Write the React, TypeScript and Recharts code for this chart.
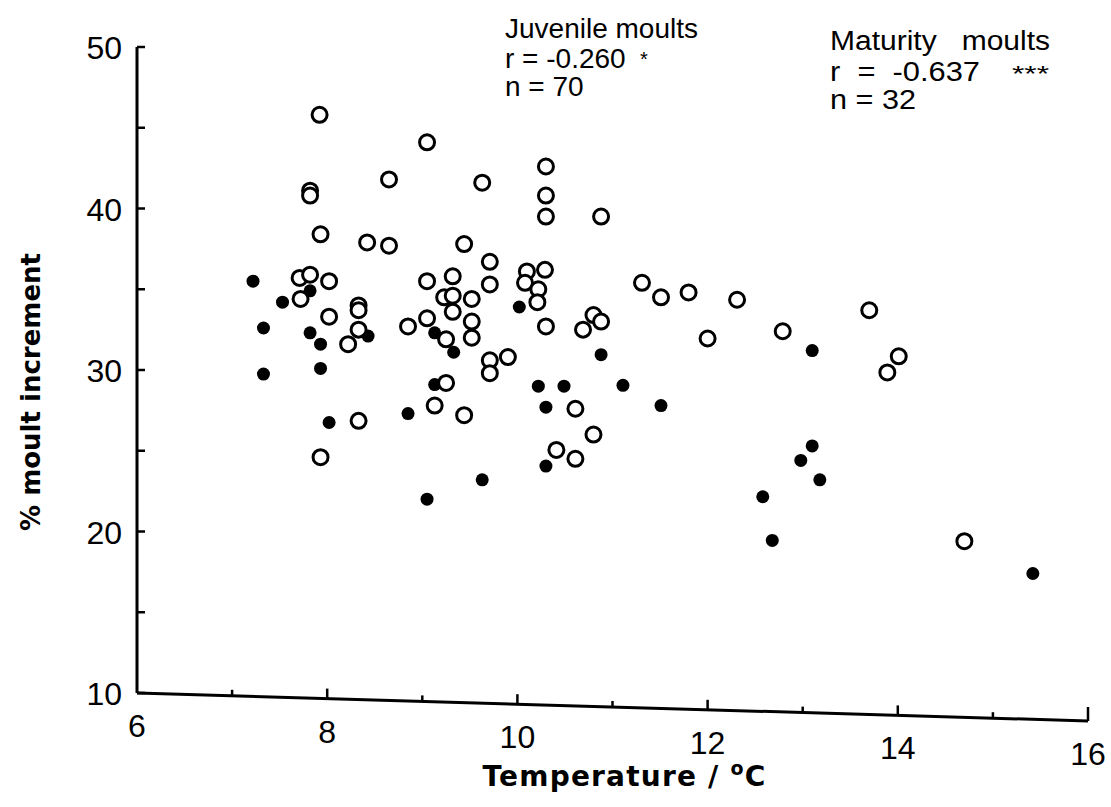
import { ScatterChart, Scatter, XAxis, YAxis, ReferenceLine, Label } from 'recharts';

// Juvenile moults (open circles)
const juvenileTemp = [
  7.92, 9.05, 8.65, 9.63, 7.82, 7.82, 7.93, 8.42, 8.65, 9.44,
  9.71, 9.71, 7.71, 7.82, 8.02, 7.72, 9.05, 9.32, 9.23, 9.32,
  9.52, 8.33, 8.33, 9.32, 8.02, 9.05, 9.52, 8.85, 8.33, 9.52,
  9.25, 8.22, 9.71, 9.9, 9.71, 9.25, 8.33, 9.13, 9.44, 7.93,
  10.3, 10.3, 10.3, 10.88, 10.1, 10.29, 10.08, 10.22, 10.21, 10.3,
  10.8, 10.88, 10.69, 11.31, 11.51, 11.8, 12.31, 12.0, 12.79, 10.61,
  10.8, 10.41, 10.61, 13.7, 14.01, 13.89, 14.7,
];
const juvenileIncrement = [
  45.8, 44.1, 41.8, 41.6, 41.1, 40.8, 38.4, 37.9, 37.7, 37.8,
  36.7, 35.3, 35.7, 35.9, 35.5, 34.4, 35.5, 35.8, 34.5, 34.6,
  34.4, 34.0, 33.7, 33.6, 33.3, 33.2, 33.0, 32.7, 32.5, 32.0,
  31.9, 31.6, 30.6, 30.8, 29.8, 29.2, 26.85, 27.8, 27.2, 24.6,
  42.6, 40.8, 39.5, 39.5, 36.1, 36.2, 35.4, 35.0, 34.2, 32.7,
  33.4, 33.0, 32.5, 35.4, 34.5, 34.8, 34.35, 31.95, 32.4, 27.6,
  26.0, 25.05, 24.5, 33.7, 30.85, 29.85, 19.4,
];

// Maturity moults (filled dots)
const maturityTemp = [
  7.22, 7.82, 7.53, 7.33, 7.82, 8.43, 7.93, 9.13, 9.33, 7.33,
  7.93, 9.13, 8.02, 8.85, 9.63, 9.05, 10.02, 10.88, 13.1, 10.22,
  10.49, 11.11, 10.3, 11.51, 10.3, 13.1, 12.98, 13.18, 12.58, 12.68,
  15.42,
];
const maturityIncrement = [
  35.5, 34.9, 34.2, 32.6, 32.3, 32.1, 31.6, 32.3, 31.1, 29.75,
  30.1, 29.1, 26.75, 27.3, 23.2, 22.0, 33.9, 30.95, 31.2, 29.0,
  29.0, 29.05, 27.7, 27.8, 24.05, 25.3, 24.4, 23.2, 22.15, 19.45,
  17.4,
];

const xTicks = [6, 7, 8, 9, 10, 11, 12, 13, 14, 15, 16];
const yTicks = [10, 15, 20, 25, 30, 35, 40, 45, 50];

const juvenileData = juvenileTemp.map((t, i) => ({ t, inc: juvenileIncrement[i] }));
const maturityData = maturityTemp.map((t, i) => ({ t, inc: maturityIncrement[i] }));

const SANS = '"Liberation Sans", Arial, Helvetica, sans-serif';
const BOLD = '"DejaVu Sans", "Liberation Sans", sans-serif';
// the scanned x axis runs slightly downhill, px per degree
const SLANT = 2.8;
const NBSP = '\u00a0';

const tickText = { fontSize: 32, fontFamily: SANS };

function XTick({ x, y, payload }: any) {
  const v = payload.value;
  const drop = (v - 6) * SLANT;
  const len = v === 16 ? 14 : v % 2 === 0 ? 10 : 6;
  return (
    <g>
      {v !== 6 && (
        <line x1={x} x2={x} y1={y + drop} y2={y + drop - len} stroke="#000" strokeWidth={2.5} />
      )}
      {v % 2 === 0 && (
        <text x={x} y={y + drop + 44} textAnchor="middle" style={tickText} fill="#000">
          {v}
        </text>
      )}
    </g>
  );
}

function YTick({ x, y, payload }: any) {
  const v = payload.value;
  return (
    <g>
      <line x1={x} x2={x + 8} y1={y} y2={y} stroke="#000" strokeWidth={2.5} />
      {v % 10 === 0 && (
        <text x={x - 15} y={y + 12} textAnchor="end" style={tickText} fill="#000">
          {v}
        </text>
      )}
    </g>
  );
}

const XLabel = ({ viewBox }: any) => {
  const cx = viewBox.x + viewBox.width / 2 + 12;
  return (
    <text
      x={cx}
      y={786}
      textAnchor="middle"
      style={{ fontSize: 28, fontWeight: 'bold', fontFamily: BOLD, letterSpacing: 1.2 }}
      fill="#000"
    >
      Temperature / <tspan style={{ fontSize: 19 }} dy={-11}>o</tspan>
      <tspan dy={11}>C</tspan>
    </text>
  );
};

const YLabel = () => (
  <text
    x={40}
    y={392}
    transform="rotate(-90, 40, 392)"
    textAnchor="middle"
    style={{ fontSize: 26, fontWeight: 'bold', fontFamily: BOLD }}
    fill="#000"
  >
    % moult increment
  </text>
);

const OpenDot = (props: any) => (
  <circle cx={props.cx} cy={props.cy} r={7.5} fill="#fff" stroke="#000" strokeWidth={3} />
);
const FilledDot = (props: any) => <circle cx={props.cx} cy={props.cy} r={6.5} fill="#000" />;

function Notes() {
  return (
    <g fill="#000" style={{ fontFamily: SANS }}>
      <g style={{ fontSize: 28 }}>
        <text x={505} y={38}>Juvenile moults</text>
        <text x={505} y={68}>r = -0.260</text>
        <text x={640} y={66} style={{ fontSize: 20 }}>*</text>
        <text x={505} y={96}>n = 70</text>
      </g>
      <g style={{ fontSize: 27 }}>
        <text x={830} y={50} textLength={220} lengthAdjust="spacingAndGlyphs">
          {`Maturity${NBSP}${NBSP}${NBSP}moults`}
        </text>
        <text x={830} y={81} textLength={150} lengthAdjust="spacingAndGlyphs">
          {`r${NBSP}${NBSP}=${NBSP}${NBSP}-0.637`}
        </text>
        <text x={1012} y={81} style={{ fontSize: 22 }} textLength={37} lengthAdjust="spacingAndGlyphs">***</text>
        <text x={830} y={109} textLength={86} lengthAdjust="spacingAndGlyphs">n = 32</text>
      </g>
    </g>
  );
}

export default function App() {
  return (
    <div style={{ position: 'absolute', left: 0, top: 0, width: 1111, height: 807, background: '#fff' }}>
      <ScatterChart width={1111} height={807} margin={{ top: 47, right: 23, bottom: 84, left: 0 }}>
        <XAxis
          type="number"
          dataKey="t"
          domain={[6, 16]}
          ticks={xTicks}
          axisLine={false}
          tickLine={false}
          tickSize={0}
          tickMargin={0}
          height={30}
          tick={<XTick />}
          interval={0}
        >
          <Label content={<XLabel />} />
        </XAxis>
        <YAxis
          type="number"
          dataKey="inc"
          domain={[10, 50]}
          ticks={yTicks}
          width={137}
          axisLine={{ stroke: '#000', strokeWidth: 3 }}
          tickLine={false}
          tickSize={0}
          tickMargin={0}
          tick={<YTick />}
          interval={0}
        >
          <Label content={<YLabel />} />
        </YAxis>
        <ReferenceLine
          segment={[{ x: 6, y: 10 }, { x: 16, y: 8.27 }]}
          stroke="#000"
          strokeWidth={3}
          ifOverflow="visible"
        />
        <Scatter data={maturityData} shape={<FilledDot />} isAnimationActive={false} />
        <Scatter data={juvenileData} shape={<OpenDot />} isAnimationActive={false} />
        <Notes />
      </ScatterChart>
    </div>
  );
}
